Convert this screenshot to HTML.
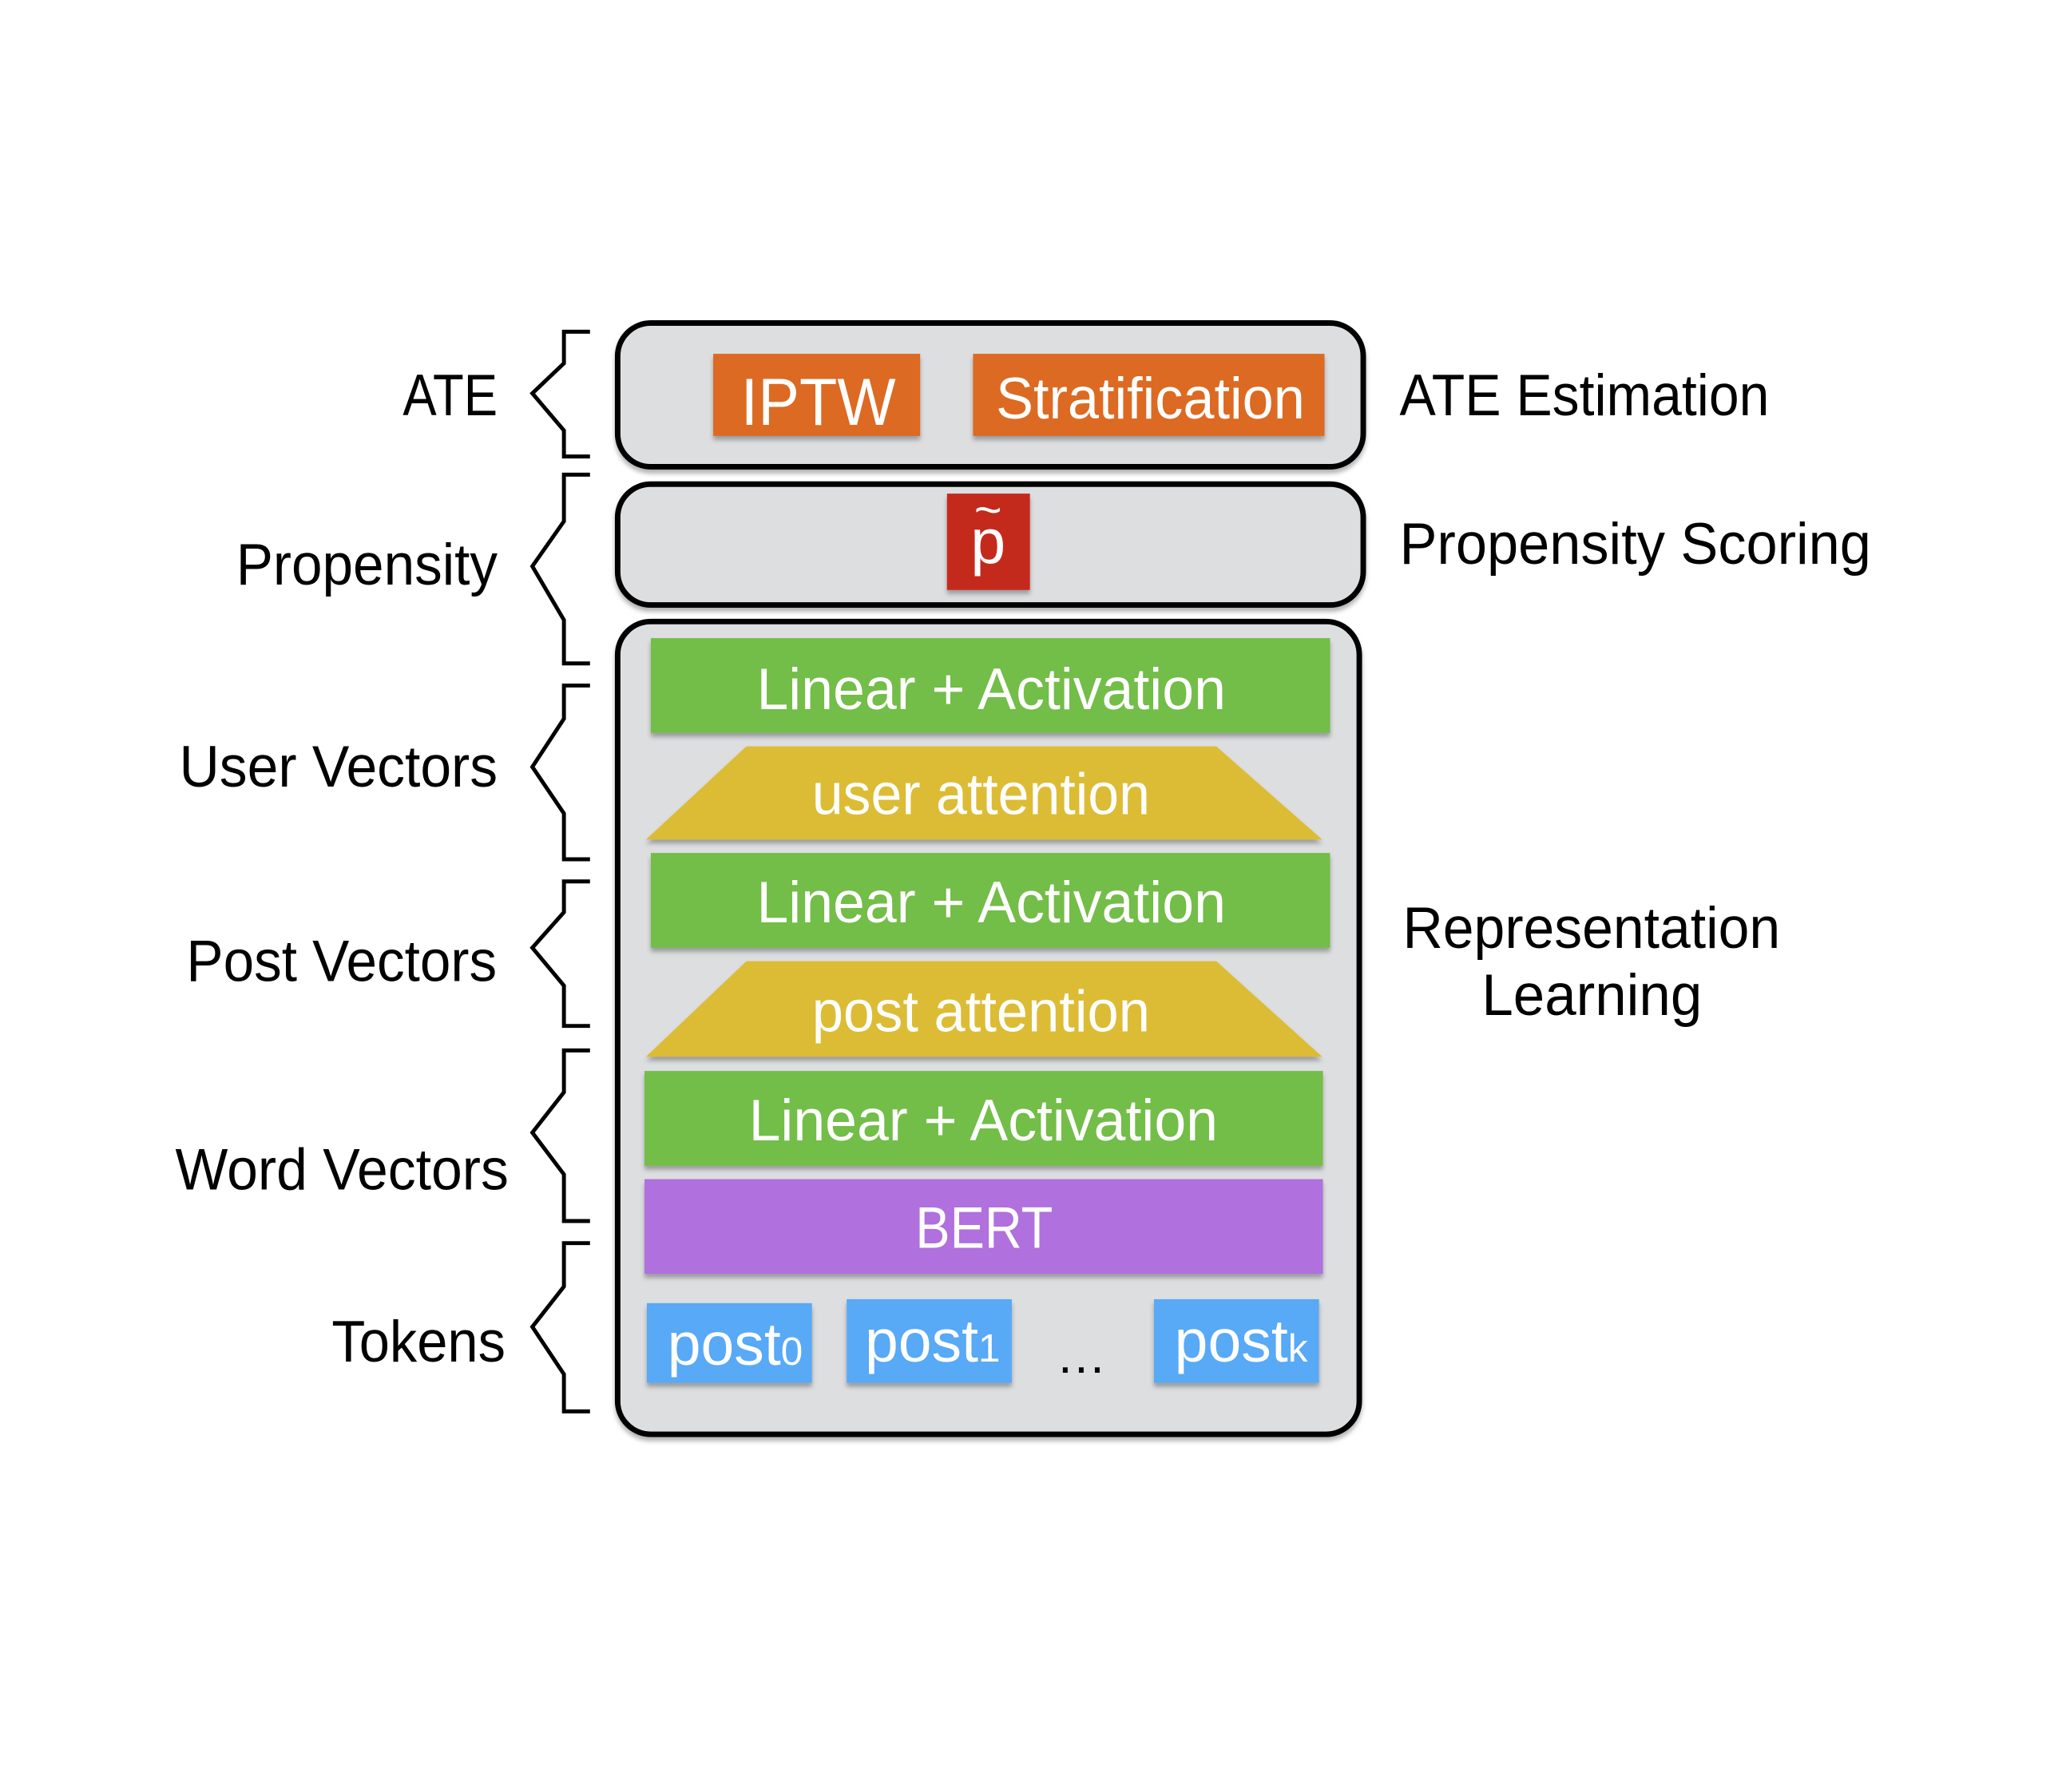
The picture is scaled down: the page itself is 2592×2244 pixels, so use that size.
<!DOCTYPE html>
<html><head><meta charset="utf-8"><style>
html,body{margin:0;padding:0;background:#fff}
svg{display:block}
text{font-family:"Liberation Sans",sans-serif}
</style></head><body>
<svg width="2592" height="2244" viewBox="0 0 2592 2244" xmlns="http://www.w3.org/2000/svg">
<defs>
<filter id="sh" x="-5%" y="-5%" width="110%" height="120%"><feDropShadow dx="0" dy="5" stdDeviation="3" flood-color="#000" flood-opacity="0.3"/></filter>
</defs>
<g transform="scale(0.989)">
<!-- containers -->
<g fill="#dddee0" stroke="#000" stroke-width="7" filter="url(#sh)">
<rect x="782" y="409" width="944" height="182" rx="42"/>
<rect x="782" y="613" width="944" height="153" rx="42"/>
<rect x="782" y="787" width="939" height="1029" rx="42"/>
</g>
<!-- boxes -->
<g filter="url(#sh)">
<rect x="903" y="448" width="262" height="104" fill="#dc6a24"/>
<rect x="1232" y="448" width="445" height="104" fill="#dc6a24"/>
<rect x="1199" y="625" width="105" height="122" fill="#c42a1a"/>
<rect x="824" y="808" width="860" height="120" fill="#73bd49"/>
<polygon points="945,945 1540,945 1674,1063 818,1063" fill="#dcbc34"/>
<rect x="824" y="1080" width="860" height="120" fill="#73bd49"/>
<polygon points="945,1217 1540,1217 1674,1338 818,1338" fill="#dcbc34"/>
<rect x="816" y="1356" width="859" height="120" fill="#73bd49"/>
<rect x="816" y="1493" width="859" height="120" fill="#b06fde"/>
<rect x="819" y="1650" width="209" height="101" fill="#58a9f6"/>
<rect x="1072" y="1645" width="209" height="106" fill="#58a9f6"/>
<rect x="1461" y="1645" width="209" height="106" fill="#58a9f6"/>
</g>
<!-- box text -->
<g fill="#fff" font-size="74">
<text x="938" y="538" font-size="84" textLength="196" lengthAdjust="spacingAndGlyphs">IPTW</text>
<text x="1261" y="530" textLength="391" lengthAdjust="spacingAndGlyphs">Stratification</text>
<text x="1251" y="713" text-anchor="middle" font-size="80">p</text>
<text x="1251" y="666" text-anchor="middle" font-size="60">~</text>
<text x="958" y="898" textLength="594" lengthAdjust="spacingAndGlyphs">Linear + Activation</text>
<text x="1028" y="1031" textLength="428" lengthAdjust="spacingAndGlyphs">user attention</text>
<text x="958" y="1168" textLength="594" lengthAdjust="spacingAndGlyphs">Linear + Activation</text>
<text x="1028" y="1306" textLength="428" lengthAdjust="spacingAndGlyphs">post attention</text>
<text x="948" y="1444" textLength="594" lengthAdjust="spacingAndGlyphs">Linear + Activation</text>
<text x="1159" y="1580" textLength="174" lengthAdjust="spacingAndGlyphs">BERT</text>
<text x="845" y="1728" font-size="76">post<tspan font-size="50">0</tspan></text>
<text x="1095" y="1724" font-size="76">post<tspan font-size="50">1</tspan></text>
<text x="1487" y="1724" font-size="76">post<tspan font-size="50">k</tspan></text>
</g>
<text x="1369" y="1738" text-anchor="middle" font-size="64" fill="#000">…</text>
<!-- left labels -->
<g fill="#000" font-size="74">
<text x="510" y="526" textLength="120" lengthAdjust="spacingAndGlyphs">ATE</text>
<text x="299" y="740" textLength="331" lengthAdjust="spacingAndGlyphs">Propensity</text>
<text x="227" y="996" textLength="403" lengthAdjust="spacingAndGlyphs">User Vectors</text>
<text x="236" y="1242" textLength="393" lengthAdjust="spacingAndGlyphs">Post Vectors</text>
<text x="222" y="1506" textLength="422" lengthAdjust="spacingAndGlyphs">Word Vectors</text>
<text x="420" y="1724" textLength="220" lengthAdjust="spacingAndGlyphs">Tokens</text>
</g>
<g fill="#000" font-size="74">
<text x="1772" y="526" textLength="468" lengthAdjust="spacingAndGlyphs">ATE Estimation</text>
<text x="1772" y="714" textLength="597" lengthAdjust="spacingAndGlyphs">Propensity Scoring</text>
<text x="1776" y="1200" textLength="478" lengthAdjust="spacingAndGlyphs">Representation</text>
<text x="1876" y="1285" textLength="279" lengthAdjust="spacingAndGlyphs">Learning</text>
</g>
<!-- braces -->
<g fill="none" stroke="#000" stroke-width="5">
<polyline points="747,420 714,420 714,460 674,498 714,545 714,578 747,578"/>
<polyline points="747,601 714,601 714,660 674,717 714,785 714,840 747,840"/>
<polyline points="747,868 714,868 714,910 674,971 714,1030 714,1088 747,1088"/>
<polyline points="747,1116 714,1116 714,1155 674,1200 714,1248 714,1299 747,1299"/>
<polyline points="747,1330 714,1330 714,1383 674,1434 714,1487 714,1546 747,1546"/>
<polyline points="747,1574 714,1574 714,1629 674,1680 714,1740 714,1787 747,1787"/>
</g>
</g>
</svg>
</body></html>
